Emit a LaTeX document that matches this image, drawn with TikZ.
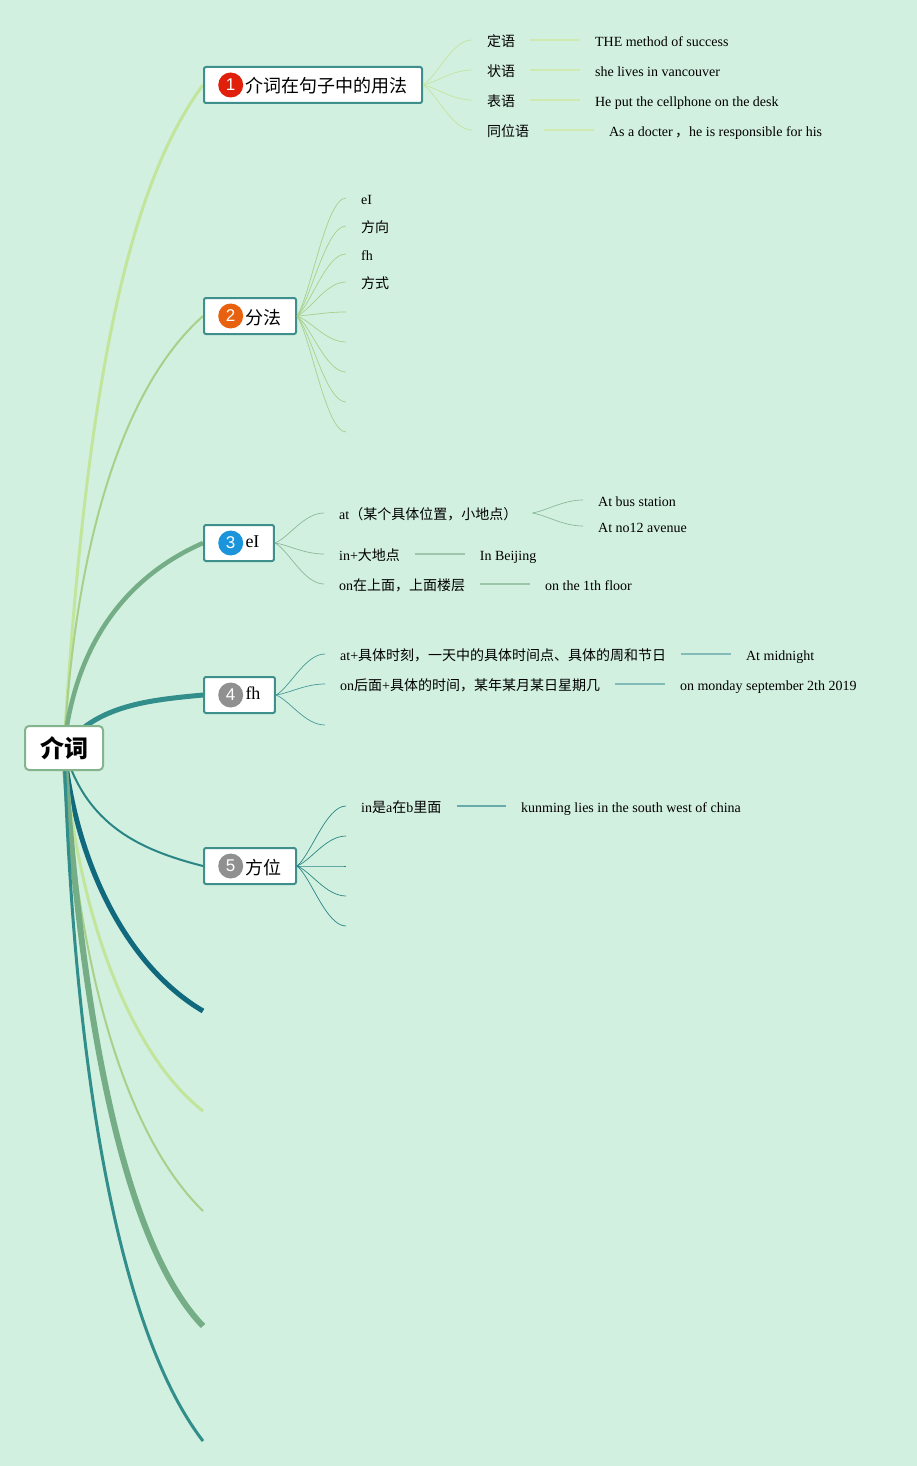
\documentclass[tikz,border=0pt]{standalone}
\usepackage{fontspec}
\setmainfont{Liberation Serif}
\newfontfamily\cjk{Noto Sans CJK SC}
\newfontfamily\badgefont{Liberation Sans}
\usepackage{tikz}
\usetikzlibrary{positioning,backgrounds,calc}
\newcommand{\zh}[1]{{\cjk #1}}
\definecolor{paper}{HTML}{D2F0E0}
\definecolor{boxline}{HTML}{3F8F8C}
\definecolor{rootline}{HTML}{84B48C}
\definecolor{lime}{HTML}{C2E59C}
\definecolor{moss}{HTML}{A9D08A}
\definecolor{sage}{HTML}{75AD87}
\definecolor{teal}{HTML}{318E8A}
\definecolor{sea}{HTML}{2A8585}
\definecolor{petrol}{HTML}{10697C}

\begin{document}
\begin{tikzpicture}[x=1pt,y=-1pt]

	\tikzstyle topic box=[draw=boxline, fill=white, line width=2pt, rounded corners=2pt, anchor=west, minimum height=36pt, inner xsep=0pt, inner ysep=0pt, text height=17pt, text depth=1pt, font=\fontsize{18}{20}\selectfont\cjk];
	\tikzstyle root box=[draw=rootline, fill=white, line width=2pt, rounded corners=4pt, minimum width=78pt, minimum height=44pt, font=\fontsize{24}{26}\selectfont\cjk\bfseries];
	\tikzstyle badge=[circle, inner sep=0pt, minimum size=25pt, text=white, font=\fontsize{17}{17}\selectfont\badgefont];
	\tikzstyle leaf text=[anchor=west, inner xsep=15pt, inner ysep=0pt, text height=14.5pt, text depth=1.5pt, font=\fontsize{14}{16}\selectfont];
	\tikzstyle twig lines=[line width=.7pt, to path={.. controls ($(\tikztostart)!.18!(\tikztotarget)+(5,0)$) and ($(\tikztotarget)+(-20,0)$) .. (\tikztotarget)}];
	\tikzstyle bar lines=[line width=1.2pt];

	\useasboundingbox (0,0) rectangle (917,1466);

	\node[root box] (root) at (64,748) {介词};

	\foreach \name/\y/\col/\num/\label in {b1/85/E0200A/1/介词在句子中的用法,b2/316/E8610F/2/分法,b3/543/1A95DC/3/{\raisebox{4pt}{\rmfamily eI}},b4/695/909090/4/{\raisebox{4pt}{\rmfamily fh}},b5/866/909090/5/方位}{
		\definecolor{badgecol}{HTML}{\col}
		\node[topic box] (\name) at (203,\y) {\hspace*{41.5pt}\label\hspace*{14.5pt}};
		\node[badge, fill=badgecol, right=15pt of \name.west] (n\name) {\num};
	}

	% free ends of the last main branches
	\coordinate (e6) at (203,1011);
	\coordinate (e7) at (203,1111);
	\coordinate (e8) at (203,1211);
	\coordinate (e9) at (203,1326);
	\coordinate (e10) at (203,1441);

	\begin{scope}[on background layer]
		\fill[paper] (0,0) rectangle (917,1466);
		\draw[lime, line width=3pt] (root.center) .. controls (85,400) and (125,190) .. (b1.west);
		\draw[moss, line width=2pt] (root.center) .. controls (75,550) and (120,390) .. (b2.west);
		\draw[sage, line width=4.5pt] (root.center) .. controls (75,640) and (130,575) .. (b3.west);
		\draw[teal, line width=5pt] (root.center) .. controls (95,705) and (150,700) .. (b4.west);
		\draw[sea, line width=2pt] (root.center) .. controls (85,825) and (140,850) .. (b5.west);
		\draw[petrol, line width=5pt] (root.center) .. controls (75,860) and (125,965) .. (e6);
		\draw[lime, line width=3pt] (root.center) .. controls (75,900) and (125,1050) .. (e7);
		\draw[moss, line width=2pt] (root.center) .. controls (75,950) and (120,1130) .. (e8);
		\draw[sage, line width=6pt] (root.center) .. controls (80,1000) and (120,1240) .. (e9);
		\draw[teal, line width=3pt] (root.center) .. controls (75,1100) and (125,1340) .. (e10);
	\end{scope}

	% first topic
	\foreach \name/\y/\label/\val in {a1/40/定语/THE method of success,a2/70/状语/she lives in vancouver,a3/100/表语/He put the cellphone on the desk,a4/130/同位语/{As a docter\,\zh{，}he is responsible for his}}{
		\node[leaf text] (\name) at (472,\y) {\zh{\label}};
		\node[leaf text, right=49.5pt of \name] (\name v) {\val};
		\draw[lime, twig lines] (b1.east) to (\name.west);
		\draw[lime!80, bar lines] (\name.east) -- (\name v.west);
	}

	% second topic
	\foreach \name/\y/\label in {c1/198/eI,c2/226/\zh{方向},c3/254/fh,c4/282/\zh{方式},c5/312/,c6/342/,c7/372/,c8/402/,c9/432/}{
		\node[leaf text] (\name) at (346,\y) {\label};
		\draw[moss, twig lines] (b2.east) to (\name.west);
	}

	% third topic
	\foreach \name/\y/\label in {d1/513/at\zh{（某个具体位置，小地点）},d2/554/in+\zh{大地点},d3/584/on\zh{在上面，上面楼层}}{
		\node[leaf text] (\name) at (324,\y) {\label};
		\draw[sage!85, twig lines] (b3.east) to (\name.west);
	}
	\foreach \name/\y/\label in {d1x/500/At bus station,d1y/526/At no12 avenue}{
		\node[leaf text] (\name) at (583,\y) {\label};
		\draw[sage!85, twig lines] (d1.east) to (\name.west);
	}
	\node[leaf text, right=49.5pt of d2] (d2v) {In Beijing};
	\node[leaf text, right=49.5pt of d3] (d3v) {on the 1th floor};
	\draw[sage!70, bar lines] (d2) -- (d2v);
	\draw[sage!70, bar lines] (d3) -- (d3v);

	% fourth topic
	\foreach \name/\y/\label in {f1/654/at+\zh{具体时刻，一天中的具体时间点、具体的周和节日},f2/684/on\zh{后面}+\zh{具体的时间，某年某月某日星期几},f3/725/}{
		\node[leaf text] (\name) at (325,\y) {\label};
		\draw[teal!90, twig lines] (b4.east) to (\name.west);
	}
	\node[leaf text, right=49.5pt of f1] (f1v) {At midnight};
	\node[leaf text, right=49.5pt of f2] (f2v) {on monday september 2th 2019};
	\draw[teal!60, bar lines] (f1) -- (f1v);
	\draw[teal!60, bar lines] (f2) -- (f2v);

	% fifth topic
	\foreach \name/\y/\label in {g1/806/in\zh{是}a\zh{在}b\zh{里面},g2/836/,g3/866/,g4/896/,g5/926/}{
		\node[leaf text] (\name) at (346,\y) {\label};
		\draw[sea, twig lines] (b5.east) to (\name.west);
	}
	\node[leaf text, right=49.5pt of g1] (g1v) {kunming lies in the south west of china};
	\draw[sea!70, bar lines] (g1) -- (g1v);

\end{tikzpicture}
\end{document}
